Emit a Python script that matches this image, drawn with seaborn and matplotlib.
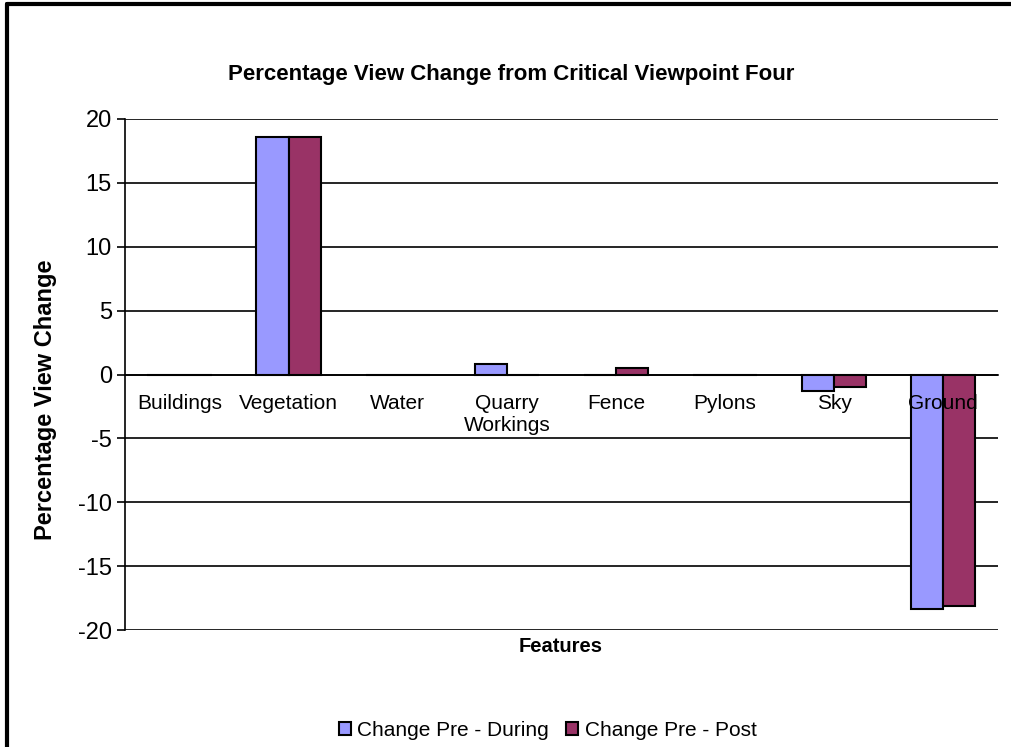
import matplotlib.pyplot as plt
import matplotlib.lines as mlines
import pandas as pd
import seaborn as sns

# DATA
features = ["Buildings", "Vegetation", "Water", "Quarry\nWorkings", "Fence",
            "Pylons", "Sky", "Ground"]
change_during = [0.0, 18.6, 0.0, 0.8, 0.0, 0.0, -1.3, -18.35]
change_post = [0.0, 18.6, 0.0, 0.0, 0.5, 0.0, -0.95, -18.15]
series_names = ["Change Pre - During", "Change Pre - Post"]
y_ticks = [-20, -15, -10, -5, 0, 5, 10, 15, 20]

df = pd.DataFrame({
    "Feature": features * 2,
    "Change": change_during + change_post,
    "Series": [series_names[0]] * len(features) + [series_names[1]] * len(features),
})

sns.set_style("white")
plt.rcParams["font.family"] = ["Liberation Sans", "DejaVu Sans"]
plt.rcParams["text.color"] = "black"
plt.rcParams["xtick.color"] = "black"
plt.rcParams["ytick.color"] = "black"
plt.rcParams["xtick.labelcolor"] = "black"
plt.rcParams["ytick.labelcolor"] = "black"

fig = plt.figure(figsize=(10.12, 7.47), dpi=100)
ax = fig.add_axes([0.1235, 0.1566, 0.8625, 0.6841])

sns.barplot(data=df, x="Feature", y="Change", hue="Series",
            palette=["#9999FF", "#993366"], saturation=1, edgecolor="black",
            linewidth=1.5, width=0.59, ax=ax, zorder=2)

ax.set_ylim(-20, 20)
ax.set_xlim(-0.5, len(features) - 0.5)
ax.set_yticks(y_ticks)
ax.set_yticklabels([str(t) for t in y_ticks], fontsize=17)

# horizontal gridlines behind the bars, tick labels drawn on top
ax.grid(False)
for t in y_ticks:
    ax.axhline(t, color="black", linewidth=1.2, zorder=0.5)
ax.set_axisbelow(False)

# x axis sits on zero, ticks between categories
ax.spines["bottom"].set_position(("data", 0))
ax.spines["top"].set_visible(False)
ax.spines["right"].set_visible(False)
for s in ["left", "bottom"]:
    ax.spines[s].set_color("black")
    ax.spines[s].set_linewidth(1.2)
ax.set_xticks(range(len(features)))
ax.set_xticklabels(features, fontsize=15, va="top")
ax.set_xticks([i - 0.5 for i in range(len(features) + 1)], minor=True)
ax.tick_params(axis="x", which="major", length=0, pad=14)
ax.tick_params(axis="x", which="minor", length=6, width=1.2, direction="out", color="black")
ax.tick_params(axis="y", length=6, width=1.2, direction="out", color="black", left=True)

ax.set_xlabel("")
ax.set_ylabel("")
fig.text(0.045, 0.465, "Percentage View Change", rotation=90, ha="center", va="center",
         fontsize=17, fontweight="bold")
fig.text(0.554, 0.135, "Features", ha="center", va="center", fontsize=14.5, fontweight="bold")
fig.text(0.505, 0.9, "Percentage View Change from Critical Viewpoint Four",
         ha="center", va="center", fontsize=16, fontweight="bold")

ax.legend(loc="center", bbox_to_anchor=(0.541, 0.0225), bbox_transform=fig.transFigure,
          ncol=2, frameon=False, fontsize=15, handlelength=0.6, handleheight=0.6,
          handletextpad=0.3, columnspacing=0.8)

# outer chart frame (cropped at right and bottom)
fig.add_artist(mlines.Line2D([0.007, 1.0], [0.994, 0.994], color="black", linewidth=3,
                             transform=fig.transFigure))
fig.add_artist(mlines.Line2D([0.007, 0.007], [0.0, 0.994], color="black", linewidth=3,
                             transform=fig.transFigure))

fig.savefig("out.png", dpi=100)
